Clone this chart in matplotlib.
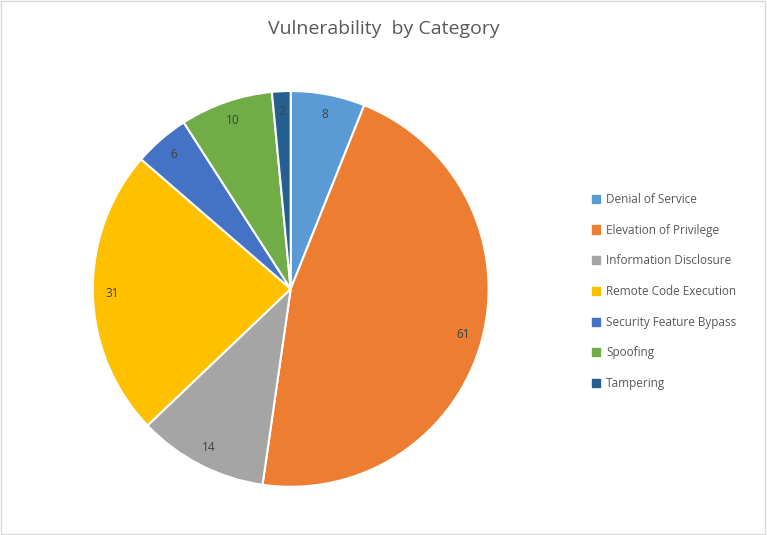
import matplotlib
matplotlib.use("Agg")
import matplotlib.pyplot as plt
from matplotlib.patches import Rectangle
import numpy as np

categories = ["Denial of Service", "Elevation of Privilege", "Information Disclosure",
              "Remote Code Execution", "Security Feature Bypass", "Spoofing", "Tampering"]
values = [8, 61, 14, 31, 6, 10, 2]
colors = ["#5B9BD5", "#ED7D31", "#A5A5A5", "#FFC000", "#4472C4", "#70AD47", "#255E91"]

plt.rcParams['font.family'] = ['Open Sans', 'DejaVu Sans']
fig = plt.figure(figsize=(7.67, 5.35), dpi=100)
fig.patches.append(Rectangle((0.001, 0.001), 0.997, 0.997, transform=fig.transFigure,
                             fill=False, edgecolor="#D9D9D9", linewidth=1))
ax = fig.add_axes([0.121, 0.09, 0.516, 0.74])
wedges, texts = ax.pie(values, colors=colors, startangle=90, counterclock=False,
                       wedgeprops=dict(edgecolor="white", linewidth=1.5))
total = sum(values)
cum = 0
for v in values:
    mid = 90 - 360 * (cum + v / 2) / total
    cum += v
    r = 0.9
    ax.text(r * np.cos(np.radians(mid)), r * np.sin(np.radians(mid)), str(v),
            ha="center", va="center", fontsize=8.5, color="#404040")
ax.set_xlim(-1.0, 1.0)
ax.set_ylim(-1.0, 1.0)
ax.set_aspect("equal")
fig.text(0.5, 0.945, "Vulnerability  by Category", ha="center", va="center",
         fontsize=14, color="#595959")
handles = [Rectangle((0, 0), 1, 1, color=c) for c in colors]
fig.legend(handles, categories, loc="center left", bbox_to_anchor=(0.758, 0.455),
           frameon=False, fontsize=8.5, labelcolor="#595959", handlelength=0.7,
           handleheight=0.7, handletextpad=0.5, labelspacing=1.5)
fig.savefig("out.png", dpi=100)
